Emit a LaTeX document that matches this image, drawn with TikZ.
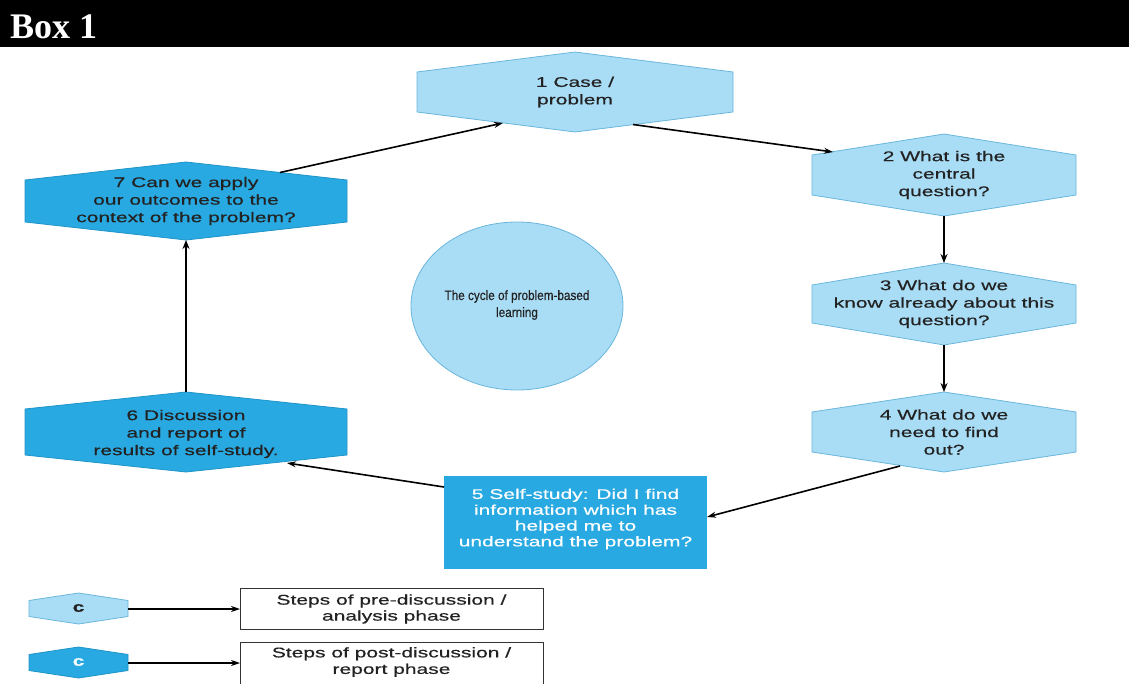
\documentclass[tikz,border=0pt]{standalone}
\usepackage{fontspec}
\setmainfont{Liberation Sans}
\newfontfamily\hf[FakeStretch=1.5,FakeBold=0.5]{Liberation Sans}
\newfontfamily\ef[FakeBold=0.5]{Liberation Sans}
\newfontfamily\titlef{Liberation Serif}
\usetikzlibrary{arrows.meta}
\definecolor{lightb}{HTML}{A9DCF5}
\definecolor{lightbd}{HTML}{6AB6DC}
\definecolor{darkb}{HTML}{29A9E1}
\definecolor{darkbd}{HTML}{1E94C8}
\definecolor{txt}{HTML}{222222}
\newcommand\hexpath[6]{\path[#1] (#2-#4,#3-#6) -- (#2,#3-#5) -- (#2+#4,#3-#6) -- (#2+#4,#3+#6) -- (#2,#3+#5) -- (#2-#4,#3+#6) -- cycle;}
\tikzset{
  hexlight/.style={fill=lightb, draw=lightbd, line width=0.8pt},
  hexdark/.style={fill=darkb, draw=darkbd, line width=0.8pt},
  htext/.style={align=center, text=txt, font=\hf\fontsize{14}{17.5}\selectfont, inner sep=0pt},
  arr/.style={-{Stealth[length=9pt,width=6pt]}, line width=1.6pt, black},
  varr/.style={-{Stealth[length=9pt,width=7pt]}, line width=2.6pt, black},
  legbox/.style={draw=black!80, line width=0.8pt, fill=white},
}
\begin{document}
\begin{tikzpicture}[x=1pt,y=-1pt]
\useasboundingbox (0,0) rectangle (1129,684);
% header
\fill[black] (0,0) rectangle (1129,47);
\node[anchor=base west, text=white, font=\titlef\bfseries\fontsize{36}{40}\selectfont, inner sep=0pt] (title) at (10,39) {Box 1};
% ellipse
\draw[fill=lightb, draw=lightbd, line width=0.8pt] (517,306) ellipse [x radius=106, y radius=84];
\node[htext, font=\ef\fontsize{13.5}{17}\selectfont, xscale=0.87] (center) at (517,305) {The cycle of problem-based\\learning};
% hexagons
\hexpath{hexlight}{575}{92}{158}{40}{20}
\node[htext] (n1) at (575,92) {1 Case /\\problem};
\hexpath{hexlight}{944}{175}{132}{41}{20}
\node[htext] (n2) at (944,175) {2 What is the\\central\\question?};
\hexpath{hexlight}{944}{304}{132}{41}{19}
\node[htext] (n3) at (944,304) {3 What do we\\know already about this\\question?};
\hexpath{hexlight}{944}{432}{132}{40}{20}
\node[htext] (n4) at (944,432) {4 What do we\\need to find\\out?};
\fill[darkb] (444,476) rectangle (707,569);
\node[htext, text=white, font=\hf\fontsize{14}{15.8}\selectfont] (n5) at (575.5,519) {5 Self-study: Did I find\\information which has\\helped me to\\understand the problem?};
\hexpath{hexdark}{186}{432}{161}{40}{23}
\node[htext] (n6) at (186,434) {6 Discussion\\and report of\\results of self-study.};
\hexpath{hexdark}{186}{201}{161}{39}{21}
\node[htext] (n7) at (186,201) {7 Can we apply\\our outcomes to the\\context of the problem?};
% connector end points
\coordinate (a7s) at (280,172.5);
\coordinate (a1e) at (503,123);
\coordinate (a1s) at (633,124.5);
\coordinate (a2e) at (833,152);
\coordinate (a2s) at (944,216);
\coordinate (a3e) at (944,263);
\coordinate (a3s) at (944,345);
\coordinate (a4e) at (944,392);
\coordinate (a4s) at (900,466);
\coordinate (a5e) at (707,517);
\coordinate (a5s) at (444,487);
\coordinate (a6e) at (287,463);
\coordinate (a6s) at (186,392);
\coordinate (a7e) at (186,240);
\draw[arr] (a7s) -- (a1e);
\draw[arr] (a1s) -- (a2e);
\draw[varr] (a2s) -- (a3e);
\draw[varr] (a3s) -- (a4e);
\draw[arr] (a4s) -- (a5e);
\draw[arr] (a5s) -- (a6e);
\draw[varr] (a6s) -- (a7e);
% legend
\hexpath{hexlight}{78.5}{608.5}{49.5}{15.5}{8}
\node[font=\hf\bfseries\fontsize{14}{14}\selectfont, text=txt, inner sep=0pt] (lc1) at (78.5,608) {c};
\hexpath{hexdark}{78.5}{662.5}{49.5}{15.5}{8}
\node[font=\hf\bfseries\fontsize{14}{14}\selectfont, text=white!90!lightb, inner sep=0pt] (lc2) at (78.5,662) {c};
\draw[legbox] (240,588) rectangle (543,629);
\node[htext, font=\hf\fontsize{14}{16}\selectfont] (lt1) at (391.5,609) {Steps of pre-discussion /\\analysis phase};
\draw[legbox] (240,642) rectangle (543,690);
\node[htext, font=\hf\fontsize{14}{16.5}\selectfont] (lt2) at (391.5,662) {Steps of post-discussion /\\report phase};
\coordinate (l1s) at (128,609);
\coordinate (l1e) at (240,609);
\coordinate (l2s) at (128,663);
\coordinate (l2e) at (240,663);
\draw[arr, line width=1.3pt] (l1s) -- (l1e);
\draw[arr, line width=1.3pt] (l2s) -- (l2e);
\end{tikzpicture}
\end{document}
